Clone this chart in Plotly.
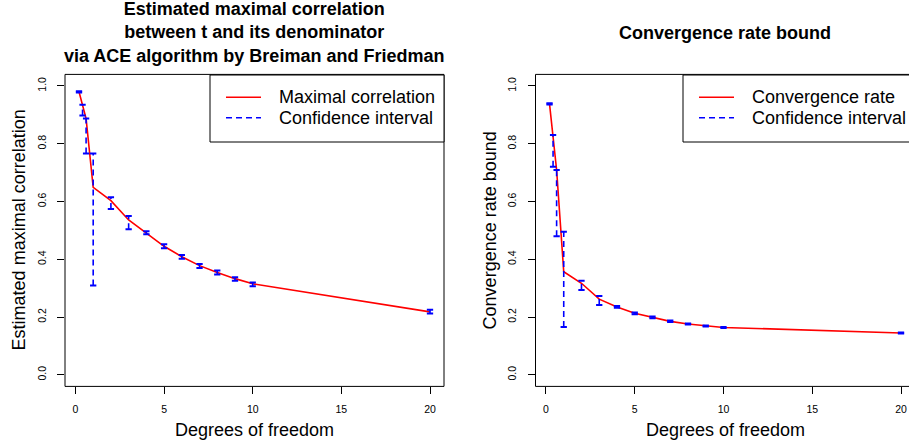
import plotly.graph_objects as go

# ---------------- data ----------------
df = [0.2, 0.4, 0.6, 1, 2, 3, 4, 5, 6, 7, 8, 9, 10, 20]

corr = [0.980, 0.935, 0.887, 0.649, 0.603, 0.536, 0.492, 0.445, 0.409, 0.378, 0.354, 0.333, 0.315, 0.218]
corr_lo = [0.977, 0.898, 0.766, 0.309, 0.574, 0.504, 0.487, 0.438, 0.402, 0.370, 0.347, 0.326, 0.307, 0.212]
corr_hi = [0.982, 0.935, 0.887, 0.766, 0.615, 0.550, 0.497, 0.452, 0.415, 0.384, 0.361, 0.338, 0.320, 0.225]

rate = [0.938, 0.825, 0.709, 0.357, 0.317, 0.262, 0.235, 0.213, 0.199, 0.185, 0.176, 0.169, 0.164, 0.145]
rate_lo = [0.936, 0.720, 0.480, 0.166, 0.294, 0.242, 0.232, 0.210, 0.196, 0.183, 0.174, 0.167, 0.162, 0.143]
rate_hi = [0.940, 0.830, 0.709, 0.495, 0.326, 0.273, 0.238, 0.216, 0.202, 0.188, 0.178, 0.171, 0.166, 0.147]

x_ticks = [0, 5, 10, 15, 20]
y_ticks = [0.0, 0.2, 0.4, 0.6, 0.8, 1.0]

title_left = "Estimated maximal correlation<br>between t and its denominator<br>via ACE algorithm by Breiman and Friedman"
title_right = "Convergence rate bound"
xlab = "Degrees of freedom"
ylab_left = "Estimated maximal correlation"
ylab_right = "Convergence rate bound"
leg_left = ["Maximal correlation", "Confidence interval"]
leg_right = ["Convergence rate", "Confidence interval"]

# ---------------- layout helpers ----------------
W, H = 909, 443
FONT = "Liberation Sans, Arial, Helvetica, sans-serif"


def px(x):
    return x / W


def py(y):
    return 1 - y / H


fig = go.Figure()


def add_panel(xa, ya, y, lo, hi):
    fig.add_trace(go.Scatter(x=df, y=y, mode="lines", line=dict(color="red", width=1.6),
                             xaxis=xa, yaxis=ya, showlegend=False, hoverinfo="skip"))
    sx, sy = [], []
    for xv, l, h in zip(df, lo, hi):
        sx += [xv, xv, None]
        sy += [l, h, None]
    fig.add_trace(go.Scatter(x=sx, y=sy, mode="lines",
                             line=dict(color="blue", width=1.6, dash="6px,4px"),
                             xaxis=xa, yaxis=ya, showlegend=False, hoverinfo="skip"))
    fig.add_trace(go.Scatter(x=df + df, y=lo + hi, mode="markers",
                             marker=dict(symbol="line-ew", size=4.5,
                                         line=dict(width=2, color="blue")),
                             xaxis=xa, yaxis=ya, showlegend=False, hoverinfo="skip"))


add_panel("x", "y", corr, corr_lo, corr_hi)
add_panel("x2", "y2", rate, rate_lo, rate_hi)

# plot regions (pixels)
L_x0, L_x1 = 65.0, 444.0
R_x0, R_x1 = 535.5, 915.0
Y_top, Y_bot = 74.4, 386.4

axis_common = dict(showgrid=False, zeroline=False, showline=False, ticks="outside",
                   ticklen=7, tickwidth=1, tickcolor="black",
                   tickfont=dict(family=FONT, size=10.5, color="black"))

fig.update_layout(
    width=W, height=H,
    margin=dict(l=0, r=0, t=0, b=0),
    paper_bgcolor="white", plot_bgcolor="white",
    showlegend=False,
    xaxis=dict(domain=[px(L_x0), px(L_x1)], range=[-0.59, 20.79], tickvals=x_ticks,
               anchor="y", ticklabelstandoff=6, **axis_common),
    yaxis=dict(domain=[py(Y_bot), py(Y_top)], range=[-0.04, 1.04], tickvals=y_ticks,
               tickformat=".1f", tickangle=-90, anchor="x", ticklabelstandoff=7, **axis_common),
    xaxis2=dict(domain=[px(R_x0), 1.0], range=[-0.59, 20.45], tickvals=x_ticks,
                anchor="y2", ticklabelstandoff=6, **axis_common),
    yaxis2=dict(domain=[py(Y_bot), py(Y_top)], range=[-0.04, 1.04], tickvals=y_ticks,
                tickformat=".1f", tickangle=-90, anchor="x2", ticklabelstandoff=7, **axis_common),
)

shapes = []
# plot boxes
for x0, x1 in [(L_x0, L_x1), (R_x0, R_x1)]:
    shapes.append(dict(type="rect", xref="paper", yref="paper",
                       x0=px(x0), x1=px(x1), y0=py(Y_bot), y1=py(Y_top),
                       line=dict(color="black", width=1), fillcolor="rgba(0,0,0,0)"))

annotations = []


def legend_box(box_x0, box_x1, labels):
    shapes.append(dict(type="rect", xref="paper", yref="paper",
                       x0=px(box_x0), x1=px(box_x1), y0=py(142), y1=py(75),
                       line=dict(color="black", width=1), fillcolor="white"))
    ly = [97.3, 117.7]
    shapes.append(dict(type="line", xref="paper", yref="paper",
                       x0=px(box_x0 + 16), x1=px(box_x0 + 51), y0=py(ly[0]), y1=py(ly[0]),
                       line=dict(color="red", width=1.6)))
    shapes.append(dict(type="line", xref="paper", yref="paper",
                       x0=px(box_x0 + 16), x1=px(box_x0 + 51), y0=py(ly[1]), y1=py(ly[1]),
                       line=dict(color="blue", width=1.6, dash="6px,4px")))
    for lab, yy in zip(labels, ly):
        annotations.append(dict(text=lab, xref="paper", yref="paper",
                                x=px(box_x0 + 67), y=py(yy), xanchor="left", yanchor="middle",
                                showarrow=False, font=dict(family=FONT, size=18, color="black")))


legend_box(210, L_x1, leg_left)
legend_box(683, R_x1, leg_right)

# titles
annotations.append(dict(text="<b>" + title_left.replace("<br>", "</b><br><b>") + "</b>",
                        xref="paper", yref="paper", x=px(254), y=py(32.5),
                        xanchor="center", yanchor="middle", showarrow=False,
                        font=dict(family=FONT, size=18, color="black")))
annotations.append(dict(text="<b>" + title_right + "</b>", xref="paper", yref="paper",
                        x=px(725), y=py(32.5), xanchor="center", yanchor="middle", showarrow=False,
                        font=dict(family=FONT, size=18, color="black")))
# axis titles
for cx in [(L_x0 + L_x1) / 2, (R_x0 + R_x1) / 2]:
    annotations.append(dict(text=xlab, xref="paper", yref="paper", x=px(cx), y=py(429.5),
                            xanchor="center", yanchor="middle", showarrow=False,
                            font=dict(family=FONT, size=18, color="black")))
for cx, lab in [(19, ylab_left), (490, ylab_right)]:
    annotations.append(dict(text=lab, xref="paper", yref="paper", x=px(cx),
                            y=py((Y_top + Y_bot) / 2), xanchor="center", yanchor="middle",
                            textangle=-90, showarrow=False,
                            font=dict(family=FONT, size=18, color="black")))

fig.update_layout(shapes=shapes, annotations=annotations)
fig.write_html("out.html", config={"displayModeBar": False},
               post_script="document.body.style.margin='0px';document.body.style.overflow='hidden';")
